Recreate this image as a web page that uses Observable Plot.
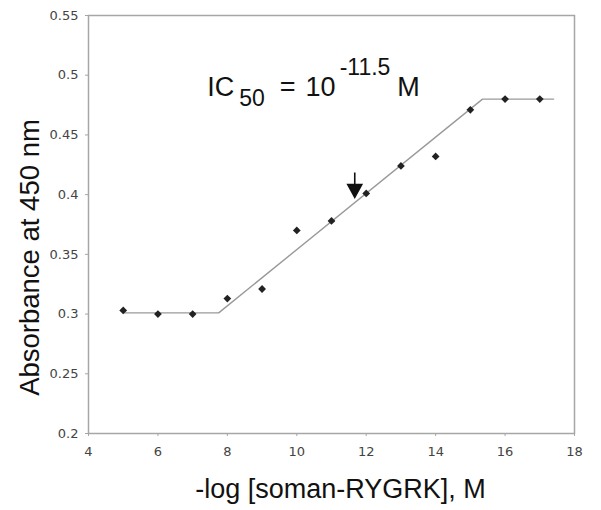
<!DOCTYPE html>
<html>
<head>
<meta charset="utf-8">
<script src="https://cdn.jsdelivr.net/npm/d3@7"></script>
<script src="https://cdn.jsdelivr.net/npm/@observablehq/plot@0.6"></script>
<style>
  html, body { margin: 0; padding: 0; background: #fff; }
</style>
</head>
<body>
<div id="chart"></div>
<script>
// Measured points
const concentrations = [5, 6, 7, 8, 9, 10, 11, 12, 13, 14, 15, 16, 17];
const absorbance = [0.303, 0.300, 0.300, 0.313, 0.321, 0.370, 0.378, 0.401, 0.424, 0.432, 0.471, 0.480, 0.480];
// Fitted piecewise line
const fitX = [5, 7.75, 15.35, 17.4];
const fitY = [0.301, 0.301, 0.480, 0.480];
// IC50 arrow (top point, pointing down)
const arrowX = [11.67];
const arrowY = [0.4186];
// Annotation anchor
const noteX = [7.42];
const noteY = [0.483];
// Ticks
const xTicks = [4, 6, 8, 10, 12, 14, 16, 18];
const yTicks = [0.2, 0.25, 0.3, 0.35, 0.4, 0.45, 0.5, 0.55];
const yTickLabels = ["0.2", "0.25", "0.3", "0.35", "0.4", "0.45", "0.5", "0.55"];

const points = concentrations.map((x, i) => ({x, y: absorbance[i]}));
const fit = fitX.map((x, i) => ({x, y: fitY[i]}));
const arrow = arrowX.map((x, i) => ({x, y: arrowY[i]}));
const note = noteX.map((x, i) => ({x, y: noteY[i]}));

const arrowShape = {
  draw(context, l, r) {
    context.moveTo(0, 0);
    context.lineTo(0, -l + 12);
    context.moveTo(-7, -l + 13);
    context.lineTo(7, -l + 13);
    context.lineTo(0, -l);
    context.closePath();
  }
};

const yFmt = d => yTickLabels[yTicks.findIndex(t => Math.abs(t - d) < 1e-9)];

const chart = Plot.plot({
  width: 601,
  height: 510,
  marginLeft: 88,
  marginRight: 27,
  marginTop: 15,
  marginBottom: 77,
  style: "font-family: 'DejaVu Sans', Verdana, sans-serif; font-size: 13px; color: #444; background: #fff;",
  x: {domain: [4, 18], ticks: xTicks, label: null},
  y: {domain: [0.2, 0.55], ticks: yTicks, label: null},
  marks: [
    Plot.frame({stroke: "#a6a6a6", strokeWidth: 1.5}),
    Plot.axisX({ticks: xTicks, tickSize: 3, tickPadding: 10, stroke: "#a6a6a6", fill: "#444", label: null}),
    Plot.axisY({ticks: yTicks, tickSize: 3, tickPadding: 7, stroke: "#a6a6a6", fill: "#444", label: null,
      tickFormat: yFmt}),
    Plot.line(fit, {x: "x", y: "y", stroke: "#9a9a9a", strokeWidth: 1.4}),
    Plot.dot(points, {x: "x", y: "y", symbol: "square", rotate: 45, r: 3.1, fill: "#222", stroke: "none"}),
    Plot.vector(arrow, {x: "x", y: "y", anchor: "start", rotate: 180, length: 25, shape: arrowShape,
      stroke: "#111", fill: "#111", strokeWidth: 1.6, strokeLinejoin: "miter", strokeLinecap: "butt"}),
    Plot.text(note, {x: "x", y: "y", text: () => "IC50 = 10-11.5 M", textAnchor: "start", lineAnchor: "bottom",
      fontSize: 27, fill: "#111", fontFamily: "'Liberation Sans', Arial, sans-serif", className: "ic50"}),
    Plot.text(["Absorbance at 450 nm"], {frameAnchor: "left", rotate: -90, textAnchor: "middle", lineAnchor: "bottom",
      dx: -50, dy: 33, fontSize: 27.5, fill: "#111", fontFamily: "'Liberation Sans', Arial, sans-serif"}),
    Plot.text(["-log [soman-RYGRK], M"], {frameAnchor: "bottom", textAnchor: "middle", lineAnchor: "bottom",
      dx: 9, dy: 64, fontSize: 27, fill: "#111", fontFamily: "'Liberation Sans', Arial, sans-serif"})
  ]
});

document.getElementById("chart").appendChild(chart);

// Tick label font size, set on each tick label text element
const tickStrings = new Set([...xTicks.map(String), ...yTickLabels]);
d3.select(chart).selectAll("text").filter(function() { return tickStrings.has(this.textContent); })
  .attr("font-size", 13).style("font-size", "13px")
  .style("font-family", "'DejaVu Sans', Verdana, sans-serif");

// Rich text for IC50 annotation (subscript / superscript)
d3.select(chart).selectAll("g.ic50 text").each(function() {
  const t = d3.select(this);
  t.text(null);
  t.append("tspan").text("IC");
  t.append("tspan").attr("font-size", 23).attr("dx", 5).attr("dy", 10).text("50");
  t.append("tspan").attr("dx", 15).attr("dy", -10).text("=");
  t.append("tspan").attr("dx", 10).text("10");
  t.append("tspan").attr("font-size", 23).attr("dx", 4).attr("dy", -21).text("-11.5");
  t.append("tspan").attr("dx", 7).attr("dy", 21).text("M");
});
</script>
</body>
</html>
